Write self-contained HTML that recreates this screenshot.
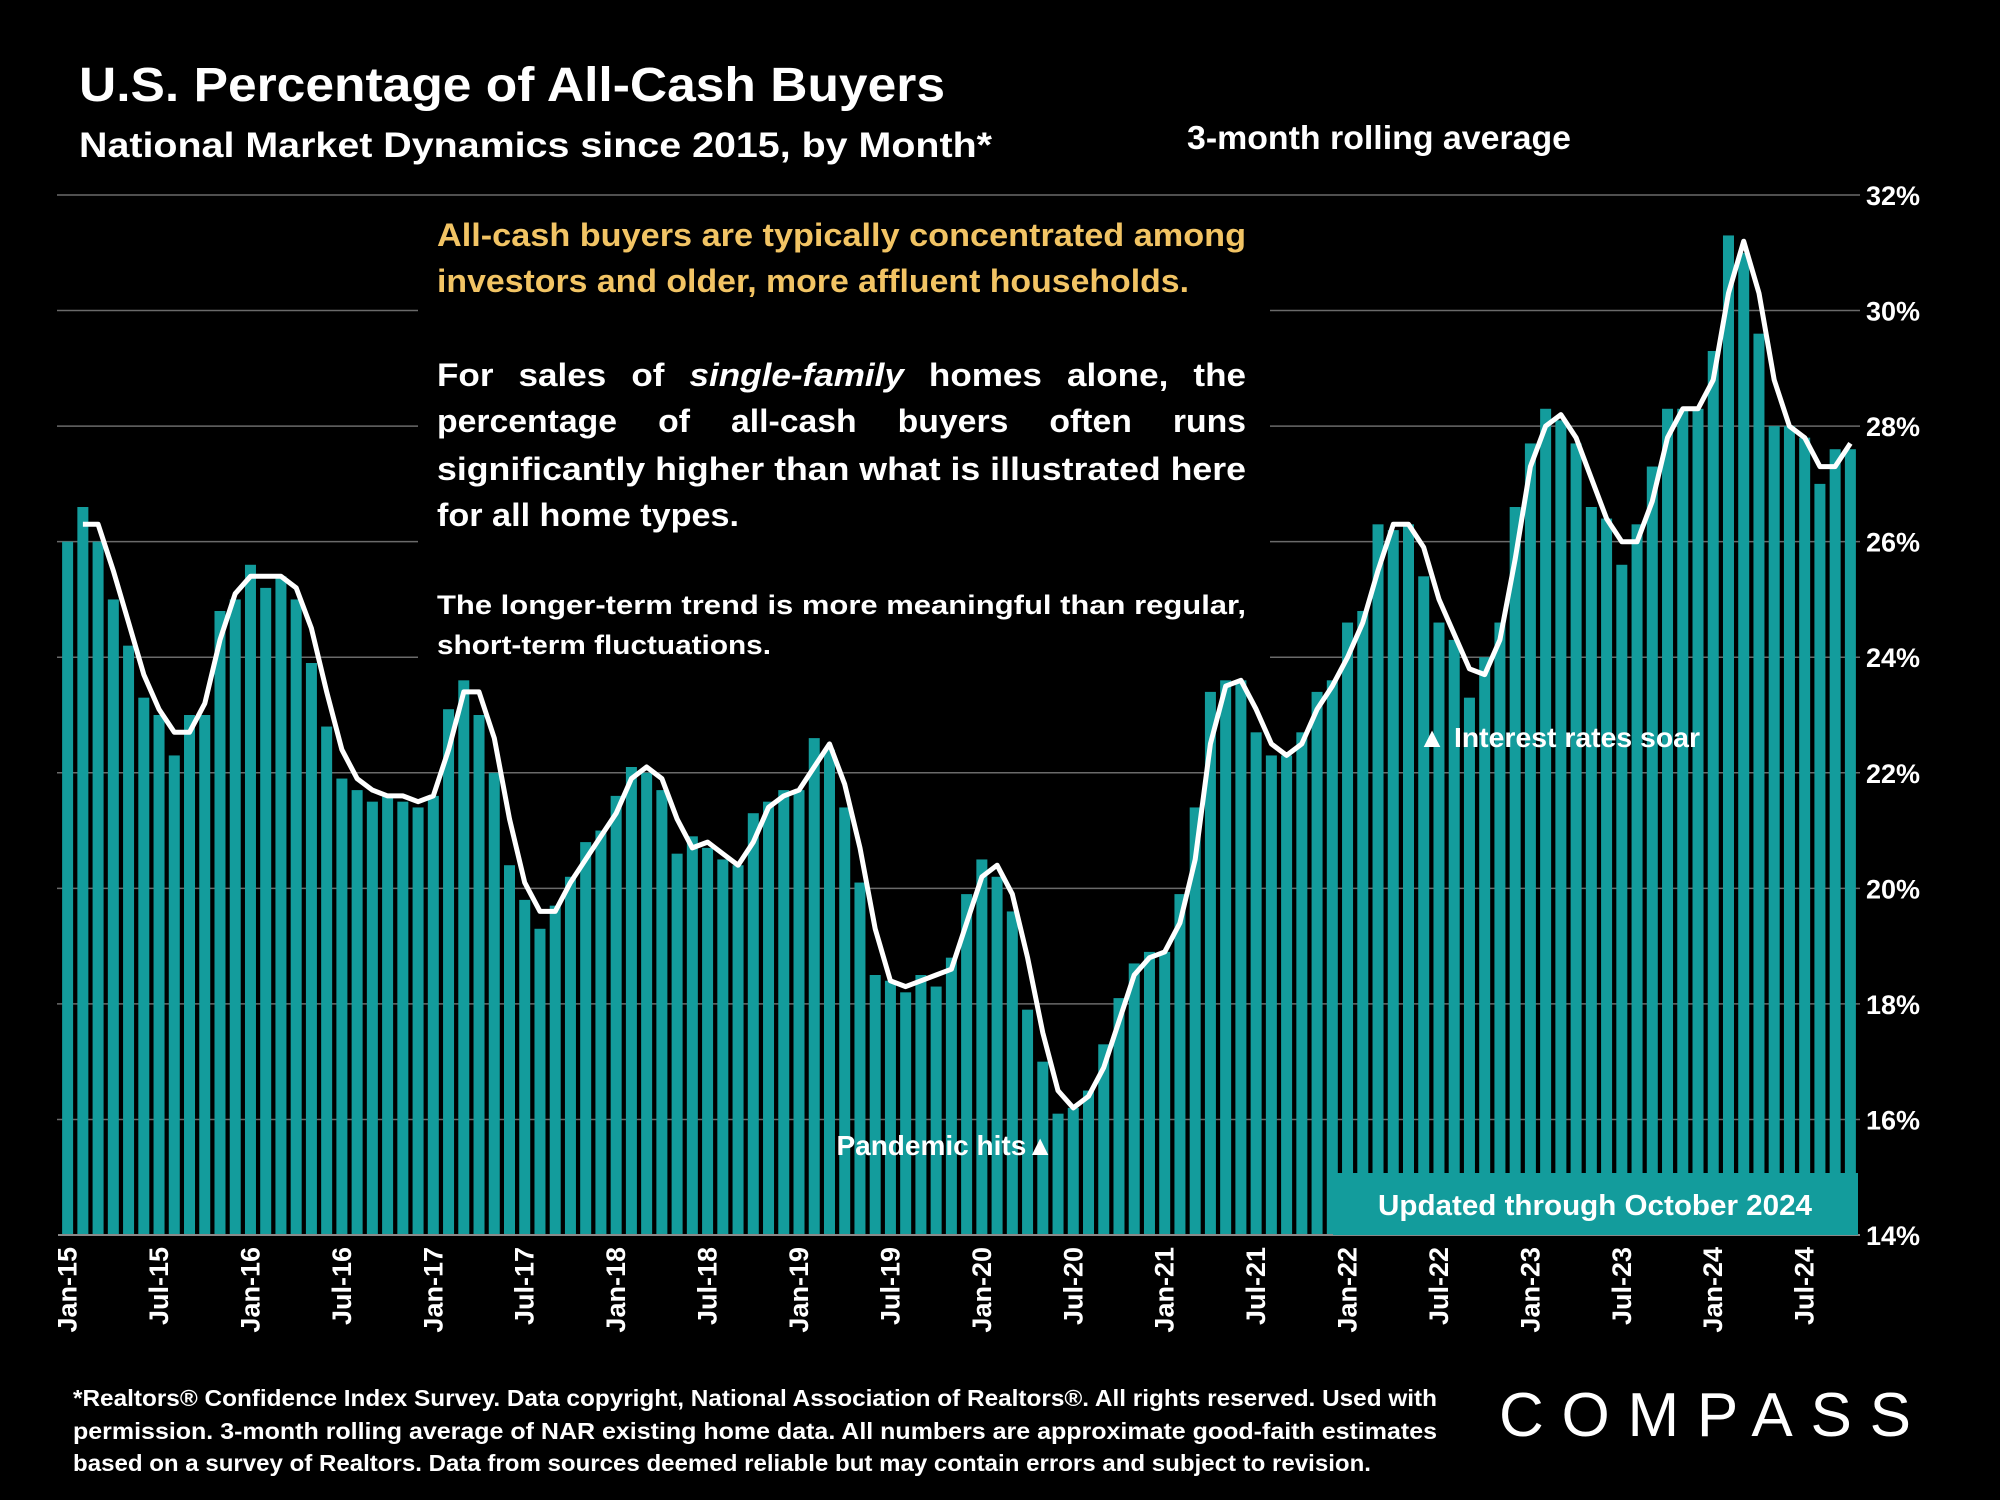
<!DOCTYPE html>
<html><head><meta charset="utf-8"><style>
html,body{margin:0;padding:0;background:#000;}
svg{display:block;font-family:"Liberation Sans",sans-serif;}
</style></head><body>
<svg id="chart" width="2000" height="1500" viewBox="0 0 2000 1500" xmlns="http://www.w3.org/2000/svg">
<rect width="2000" height="1500" fill="#000"/>
<g id="grid"></g>
<rect x="418" y="205" width="852" height="460" fill="#000"/>
<g id="bars"></g>
<path id="line" fill="none" stroke="#fff" stroke-width="5" stroke-linejoin="round"/>
<g id="yticks"></g>
<g id="xticks"></g>

<text x="79" y="101" fill="#fff" font-weight="bold" font-size="48" textLength="866" lengthAdjust="spacingAndGlyphs">U.S. Percentage of All-Cash Buyers</text>
<text x="79" y="157" fill="#fff" font-weight="bold" font-size="35" textLength="913" lengthAdjust="spacingAndGlyphs">National Market Dynamics since 2015, by Month*</text>
<text x="1187" y="149" fill="#fff" font-weight="bold" font-size="33" textLength="384" lengthAdjust="spacingAndGlyphs">3-month rolling average</text>

<g font-weight="bold">
<text x="437" y="246" fill="#f2c464" font-size="32" textLength="809" lengthAdjust="spacingAndGlyphs">All-cash buyers are typically concentrated among</text>
<text x="437" y="292" fill="#f2c464" font-size="32" textLength="752" lengthAdjust="spacingAndGlyphs">investors and older, more affluent households.</text>
<text x="437" y="386" fill="#fff" font-size="32" textLength="809" lengthAdjust="spacingAndGlyphs" word-spacing="14">For sales of <tspan font-style="italic">single-family</tspan> homes alone, the</text>
<text x="437" y="432" fill="#fff" font-size="32" textLength="809" lengthAdjust="spacingAndGlyphs" word-spacing="30">percentage of all-cash buyers often runs</text>
<text x="437" y="480" fill="#fff" font-size="32" textLength="809" lengthAdjust="spacingAndGlyphs">significantly higher than what is illustrated here</text>
<text x="437" y="526" fill="#fff" font-size="32" textLength="302" lengthAdjust="spacingAndGlyphs">for all home types.</text>
<text x="437" y="614" fill="#fff" font-size="27" textLength="809" lengthAdjust="spacingAndGlyphs">The longer-term trend is more meaningful than regular,</text>
<text x="437" y="654" fill="#fff" font-size="27" textLength="334" lengthAdjust="spacingAndGlyphs">short-term fluctuations.</text>
</g>

<text x="1418" y="747" fill="#fff" font-weight="bold" font-size="28" textLength="282" lengthAdjust="spacingAndGlyphs">▲ Interest rates soar</text>
<text x="1054" y="1155" fill="#fff" font-weight="bold" font-size="28" text-anchor="end">Pandemic hits▲</text>

<rect x="1333" y="1173" width="525" height="62" fill="#139c9c"/>
<text x="1595" y="1215" fill="#fff" font-weight="bold" font-size="29" text-anchor="middle" textLength="434" lengthAdjust="spacingAndGlyphs">Updated through October 2024</text>

<g fill="#fff" font-weight="bold" font-size="23">
<text x="73" y="1406" textLength="1364" lengthAdjust="spacingAndGlyphs">*Realtors® Confidence Index Survey. Data copyright, National Association of Realtors®. All rights reserved. Used with</text>
<text x="73" y="1439" textLength="1364" lengthAdjust="spacingAndGlyphs">permission. 3-month rolling average of NAR existing home data. All numbers are approximate good-faith estimates</text>
<text x="73" y="1471" textLength="1298" lengthAdjust="spacingAndGlyphs">based on a survey of Realtors. Data from sources deemed reliable but may contain errors and subject to revision.</text>
</g>
<text x="1499" y="1436" fill="#fff" font-size="62" textLength="412" lengthAdjust="spacing">COMPASS</text>
</svg>
<script>
const barValues = [
26.0,26.6,26.0,25.0,24.2,23.3,23.0,22.3,23.0,23.0,24.8,25.0,
25.6,25.2,25.4,25.0,23.9,22.8,21.9,21.7,21.5,21.6,21.5,21.4,
21.6,23.1,23.6,23.0,22.0,20.4,19.8,19.3,19.7,20.2,20.8,21.0,
21.6,22.1,22.0,21.7,20.6,20.9,20.7,20.5,20.4,21.3,21.5,21.7,
21.7,22.6,22.4,21.4,20.1,18.5,18.4,18.2,18.5,18.3,18.8,19.9,
20.5,20.2,19.6,17.9,17.0,16.1,16.2,16.5,17.3,18.1,18.7,18.9,
18.9,19.9,21.4,23.4,23.6,23.6,22.7,22.3,22.3,22.7,23.4,23.6,
24.6,24.8,26.3,26.2,26.3,25.4,24.6,24.3,23.3,24.0,24.6,26.6,
27.7,28.3,28.1,27.7,26.6,26.4,25.6,26.3,27.3,28.3,28.3,28.3,
29.3,31.3,31.0,29.6,28.0,28.0,27.8,27.0,27.6,27.6];
const lineValues = [
26.3,26.3,25.5,24.6,23.7,23.1,22.7,22.7,23.2,24.3,
25.1,25.4,25.4,25.4,25.2,24.5,23.4,22.4,21.9,21.7,
21.6,21.6,21.5,21.6,22.4,23.4,23.4,22.6,21.2,20.1,
19.6,19.6,20.1,20.5,20.9,21.3,21.9,22.1,21.9,21.2,
20.7,20.8,20.6,20.4,20.8,21.4,21.6,21.7,22.1,22.5,
21.8,20.7,19.3,18.4,18.3,18.4,18.5,18.6,19.4,20.2,
20.4,19.9,18.8,17.5,16.5,16.2,16.4,16.9,17.7,18.5,
18.8,18.9,19.4,20.5,22.5,23.5,23.6,23.1,22.5,22.3,
22.5,23.1,23.5,24.0,24.6,25.5,26.3,26.3,25.9,25.0,
24.4,23.8,23.7,24.3,25.7,27.3,28.0,28.2,27.8,27.1,
26.4,26.0,26.0,26.7,27.8,28.3,28.3,28.8,30.3,31.2,
30.3,28.8,28.0,27.8,27.3,27.3,27.7];
const yTicks = [14,16,18,20,22,24,26,28,30,32];
const xTickLabels = ["Jan-15","Jul-15","Jan-16","Jul-16","Jan-17","Jul-17","Jan-18","Jul-18","Jan-19","Jul-19","Jan-20","Jul-20","Jan-21","Jul-21","Jan-22","Jul-22","Jan-23","Jul-23","Jan-24","Jul-24"];

const NS="http://www.w3.org/2000/svg";
const X0=60,X1=1858,YT=195,YB=1235,VMIN=14,VMAX=32;
const n=barValues.length, step=(X1-X0)/n;
const xC=i=>X0+step*(i+0.5);
const yS=v=>YB-(v-VMIN)/(VMAX-VMIN)*(YB-YT);
function mk(t,a){const e=document.createElementNS(NS,t);for(const k in a)e.setAttribute(k,a[k]);return e;}

const grid=document.getElementById('grid');
yTicks.forEach(v=>{
  if(v===14)return;
  const l=mk('line',{x1:57,x2:1860,y1:yS(v),y2:yS(v),stroke:'#6a6a6a','stroke-width':1.5});
  
  
  grid.appendChild(l);
});
const bars=document.getElementById('bars');
barValues.forEach((v,i)=>{
  const r=mk('rect',{x:xC(i)-5.5,width:11,y:yS(v),height:YB-yS(v),fill:'#139c9c'});
  
  
  bars.appendChild(r);
});
const ax=mk('line',{x1:X0-2,x2:X1+2,y1:YB,y2:YB,stroke:'#8a8a8a','stroke-width':2});


bars.appendChild(ax);
let d='';
lineValues.forEach((v,i)=>{d+=(i?'L':'M')+xC(i+1).toFixed(1)+','+yS(v).toFixed(1);});
document.getElementById('line').setAttribute('d',d);

const yt=document.getElementById('yticks');
yTicks.forEach(v=>{
  const t=mk('text',{x:1866,y:yS(v)+10,fill:'#fff','font-size':27,'font-weight':'bold'});
  t.textContent=v+'%';
  
  
  yt.appendChild(t);
});
const xt=document.getElementById('xticks');
xTickLabels.forEach((lab,k)=>{
  const cx=xC(k*6)+9, cy=1247;
  const t=mk('text',{x:cx,y:cy,fill:'#fff','font-size':27,'font-weight':'bold','text-anchor':'end',transform:`rotate(-90 ${cx} ${cy})`});
  t.textContent=lab;
  
  
  xt.appendChild(t);
});
</script>
</body></html>
